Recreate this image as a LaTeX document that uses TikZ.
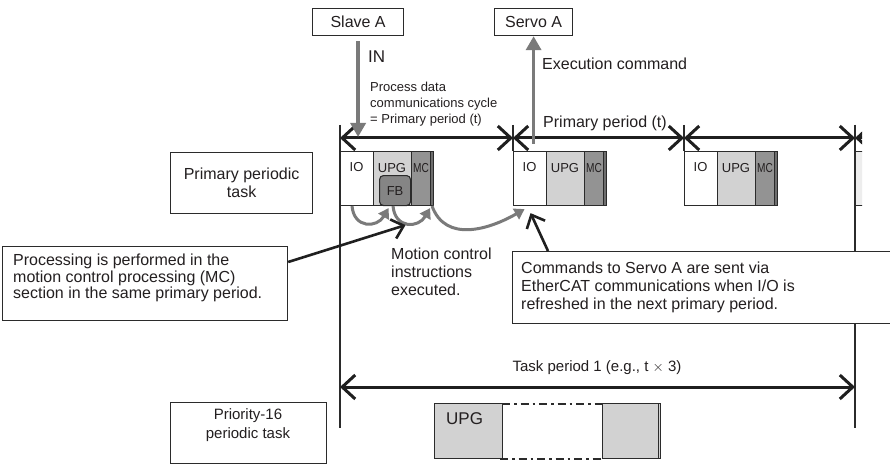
\documentclass[tikz,border=0pt]{standalone}
\usepackage{fontspec}
\setmainfont{Liberation Sans}
\usetikzlibrary{arrows.meta}
\definecolor{ln}{HTML}{2B2B2B}
\definecolor{tx}{HTML}{231F20}
\definecolor{gar}{HTML}{7A7A7A}
\definecolor{upgc}{HTML}{D2D2D2}
\definecolor{mcc}{HTML}{939393}
\definecolor{fbc}{HTML}{858585}
\definecolor{stripc}{HTML}{6E6E6E}
\begin{document}
\begin{tikzpicture}[x=1pt,y=-1pt,
  txt/.style={inner sep=0pt, text=tx, font=\fontsize{16}{18}\selectfont},
  smalltxt/.style={inner sep=0pt, text=tx, font=\fontsize{13}{16}\selectfont},
  celltxt/.style={inner sep=0pt, text=tx, font=\fontsize{13}{14}\selectfont},
  lbox/.style={draw=ln, line width=1.2pt, fill=white, inner sep=0pt, anchor=north west},
  vline/.style={draw=ln, line width=1.1pt},
  period/.style={draw=black!88, line width=3pt, {Straight Barb[length=13pt,width=24pt]}-{Straight Barb[length=13pt,width=24pt]}},
  grayarrow/.style={draw=gar, line width=3.5pt, -{Triangle[length=14pt,width=15pt]}},
  curvearrow/.style={draw=gar, line width=3pt, -{Triangle[length=10pt,width=12pt]}},
  pointer/.style={draw=black!88, line width=2.6pt, -{Straight Barb[length=11pt,width=20pt]}},
  cell/.style={draw=ln, line width=1.1pt, anchor=north west, minimum height=54pt, inner sep=0pt},
  lowbox/.style={draw=ln, line width=1.1pt, fill=upgc, anchor=north west, minimum height=55pt, inner sep=0pt},
  dashdot/.style={draw=ln, line width=2pt, dash pattern=on 8pt off 4pt on 2.5pt off 4pt},
]
\fill[white] (0,0) rectangle (890,465);
\clip (0,0) rectangle (890,465);

% reference coordinates
\coordinate (row) at (0,138);
\coordinate (trow) at (0,387);
\coordinate (v1t) at (340,125); \coordinate (v1b) at (340,428);
\coordinate (v2t) at (513,125); \coordinate (v2b) at (513,151);
\coordinate (v3t) at (684,125); \coordinate (v3b) at (684,151);
\coordinate (v4t) at (855,125); \coordinate (v4b) at (855,428);

% vertical lines
\draw[vline] (v1t) -- (v1b);
\draw[vline] (v2t) -- (v2b);
\draw[vline] (v3t) -- (v3b);
\draw[vline] (v4t) -- (v4b);

% top boxes
\node[lbox, minimum width=91pt, minimum height=27pt] (slave) at (312,8) {};
\node[txt] (slavet) at (slave.center) {Slave A};
\node[lbox, minimum width=78pt, minimum height=27pt] (servo) at (494,8) {};
\node[txt] (servot) at (servo.center) {Servo A};

% task blocks
\foreach \x/\n in {340/1,513/2,684/3}{
  \node[cell, fill=white, minimum width=33pt] (io\n) at (\x,151) {};
  \node[cell, fill=upgc, minimum width=38pt] (upg\n) at (\x+33,151) {};
  \node[cell, fill=mcc, minimum width=19pt] (mc\n) at (\x+71,151) {};
  \node[cell, fill=stripc, minimum width=3pt, line width=0.8pt] (st\n) at (\x+90,151) {};
  \node[celltxt] (iot\n) at (\x+16.5,167) {IO};
  \node[celltxt] (upgt\n) at (\x+52,168) {UPG};
  \node[celltxt] (mct\n) at (\x+81,168) {\scalebox{0.78}[1]{MC}};
}
\node[draw=ln, line width=1.1pt, fill=fbc, rounded corners=4pt, minimum width=31pt, minimum height=30pt, anchor=north west, inner sep=0pt, text=tx, font=\fontsize{13}{14}\selectfont] (fb) at (379,175) {FB};

% partial fourth block and arrow
\begin{scope}
  \clip (855,100) rectangle (862,215);
  \node[cell, fill=black!7, minimum width=40pt] (io4) at (855,151) {};
  \draw[period] (v4t |- row) -- ++(60,0);
\end{scope}
\draw[vline] (v4t) -- (855,260);

% primary period arrows
\draw[period] (v1t |- row) -- (v2t |- row);
\draw[period] (v2t |- row) -- (v3t |- row);
\draw[period] (v3t |- row) -- (v4t |- row);

% gray IN / execution arrows
\draw[grayarrow] ([yshift=-5pt]slave.south) -- (slave.south |- 0,137);
\draw[grayarrow] (servo.south |- 0,144) -- (servo.south);

% texts near arrows
\node[txt, anchor=west, font=\fontsize{17}{18}\selectfont] (in) at (368,57) {IN};
\node[smalltxt, anchor=west, align=left] (pdc) at (370,104) {Process data\\communications cycle\\= Primary period (t)};
\node[txt, anchor=west] (exe) at (542,64) {Execution command};
\node[txt, anchor=west] (pp) at (543,123) {Primary period (t)};

% curved gray arrows
\draw[curvearrow] (352,206) to[out=-85,in=-120,looseness=1.6] ([xshift=-6.5pt,yshift=-2pt]fb.south);
\draw[curvearrow] (393,206) to[out=-85,in=-120,looseness=1.6] ([xshift=-1pt,yshift=-2pt]mc1.south east);
\draw[curvearrow] (432,206) to[out=-70,in=-150,looseness=1.1] ([xshift=-5.5pt,yshift=-3pt]io2.south);

% left boxes
\node[lbox, minimum width=142pt, minimum height=61pt] (ppt) at (170,152) {};
\node[txt, align=center] (pptt) at (ppt.center) {Primary periodic\\task};
\node[lbox, minimum width=285pt, minimum height=74pt] (proc) at (2,246) {};
\node[txt, anchor=west, align=left, font=\fontsize{16}{16.5}\selectfont] (proct) at (13,278) {Processing is performed in the\\motion control processing (MC)\\section in the same primary period.};
\node[lbox, minimum width=156pt, minimum height=61pt] (pri) at (170,402) {};
\node[txt, align=center, font=\fontsize{15}{19}\selectfont] (prit) at (248,425) {Priority-16\\periodic task};

% commands box
\node[lbox, minimum width=420pt, minimum height=72pt] (cmd) at (512,251) {};
\node[txt, anchor=west, align=left] (cmdt) at (521,287) {Commands to Servo A are sent via\\EtherCAT communications when I/O is\\refreshed in the next primary period.};

% motion control text
\node[txt, anchor=west, align=left] (mct) at (391,272) {Motion control\\instructions\\executed.};

% pointer arrows
\draw[pointer] ([yshift=-16pt]proc.north east) -- ([xshift=10.5pt,yshift=-19pt]fb.south);
\draw[pointer] ([xshift=36pt]cmd.north west) -- ([xshift=0.5pt,yshift=-7pt]io2.south);

% task period 1
\node[txt, font=\fontsize{15}{18}\selectfont] (tpt) at (597,368) {Task period 1 (e.g., t $\times$ 3)};
\draw[period] (v1t |- trow) -- (v4t |- trow);

% lower UPG execution
\coordinate (dtl) at (502,404);
\coordinate (dtr) at (602,404);
\coordinate (dbl) at (500,459);
\coordinate (dbr) at (604,459);
\draw[dashdot] (dtl) -- (dtr);
\draw[dashdot] (dbl) -- (dbr);
\node[lowbox, minimum width=68pt] (lupg) at (434,403) {};
\node[txt, anchor=north west, font=\fontsize{17}{18}\selectfont] (lupgt) at (446,412) {UPG};
\node[lowbox, minimum width=58pt] (lrest) at (602,403) {};
\draw[draw=ln, line width=0.8pt] ([xshift=-2.5pt]lrest.north east) -- ([xshift=-2.5pt]lrest.south east);
\end{tikzpicture}
\end{document}
